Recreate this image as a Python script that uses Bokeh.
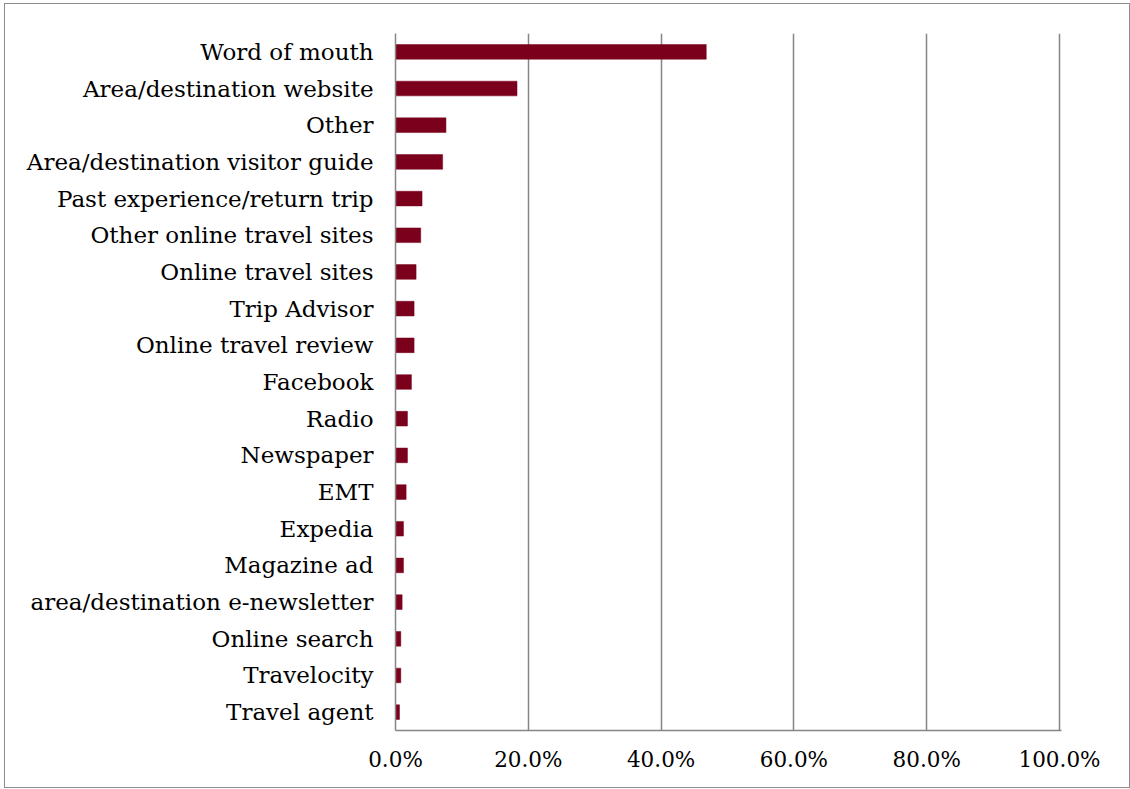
from bokeh.plotting import figure
from bokeh.models import Range1d, FactorRange, FixedTicker, NumeralTickFormatter
from bokeh.embed import file_html
from bokeh.resources import INLINE

categories = [
    "Word of mouth",
    "Area/destination website",
    "Other",
    "Area/destination visitor guide",
    "Past experience/return trip",
    "Other online travel sites",
    "Online travel sites",
    "Trip Advisor",
    "Online travel review",
    "Facebook",
    "Radio",
    "Newspaper",
    "EMT",
    "Expedia",
    "Magazine ad",
    "area/destination e-newsletter",
    "Online search",
    "Travelocity",
    "Travel agent",
]
values = [0.468, 0.183, 0.076, 0.071, 0.040, 0.038, 0.031, 0.028, 0.028, 0.024,
          0.018, 0.018, 0.016, 0.012, 0.012, 0.010, 0.008, 0.008, 0.006]
x_ticks = [0.0, 0.2, 0.4, 0.6, 0.8, 1.0]

FONT = "DejaVu Serif"
GRID = "#868686"

p = figure(
    y_range=FactorRange(*reversed(categories), range_padding=0),
    x_range=Range1d(0, 1.003),
    frame_width=666, frame_height=697,
    min_border_left=390, min_border_right=68,
    min_border_top=29, min_border_bottom=57,
    output_backend="svg", toolbar_location=None,
    styles={"border": "1px solid #8c8c8c", "margin-left": "4px", "margin-top": "3px"},
)
p.y_range.factor_padding = 0

p.hbar(y=categories, right=values, left=0, height=0.4,
       fill_color="#7a001c", line_color="#7a001c", line_width=0.5)

p.outline_line_color = None
p.background_fill_color = "white"
p.border_fill_color = "white"

p.ygrid.grid_line_color = None
p.xgrid.grid_line_color = GRID
p.xgrid.grid_line_width = 1.5
p.xgrid.ticker = FixedTicker(ticks=x_ticks)

p.xaxis.ticker = FixedTicker(ticks=x_ticks)
p.xaxis.formatter = NumeralTickFormatter(format="0.0%")
p.xaxis.major_tick_line_color = None
p.xaxis.minor_tick_line_color = None
p.xaxis.axis_line_color = GRID
p.xaxis.axis_line_width = 1.5
p.xaxis.major_label_text_font = FONT
p.xaxis.major_label_text_font_size = "21.5px"
p.xaxis.major_label_text_color = "black"
p.xaxis.major_label_standoff = 10

p.yaxis.major_tick_line_color = None
p.yaxis.minor_tick_line_color = None
p.yaxis.axis_line_color = GRID
p.yaxis.axis_line_width = 1.5
p.yaxis.major_label_text_font = FONT
p.yaxis.major_label_text_font_size = "23px"
p.yaxis.major_label_text_color = "black"
p.yaxis.major_label_standoff = 16

open("out.html", "w").write(file_html(p, INLINE))
